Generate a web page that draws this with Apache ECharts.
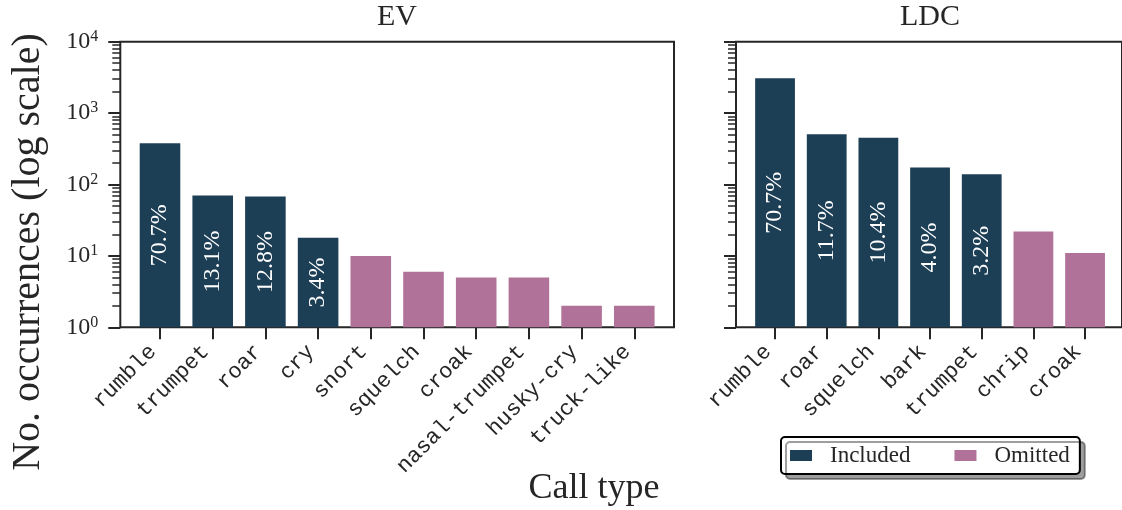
<!DOCTYPE html>
<html><head><meta charset="utf-8">
<script src="https://cdn.jsdelivr.net/npm/echarts@6/dist/echarts.min.js"></script>
<style>html,body{margin:0;padding:0;background:#fff}#c{width:1122px;height:510px}</style>
</head><body><div id="c"></div>
<script>
// ---- data ----
const evCategories = ['rumble','trumpet','roar','cry','snort','squelch','croak','nasal-trumpet','husky-cry','truck-like'];
const evIncluded   = [377, 70, 68, 18, null, null, null, null, null, null];
const evOmitted    = [null, null, null, null, 10, 6, 5, 5, 2, 2];
const evPercent    = ['70.7%','13.1%','12.8%','3.4%'];
const ldcCategories = ['rumble','roar','squelch','bark','trumpet','chrip','croak'];
const ldcIncluded   = [3070, 506, 452, 173, 139, null, null];
const ldcOmitted    = [null, null, null, null, null, 22, 11];
const ldcPercent    = ['70.7%','11.7%','10.4%','4.0%','3.2%'];
const yMin = 1, yMax = 10000;
const panelTitles = ['EV', 'LDC'];
const seriesNames = ['Included', 'Omitted'];
const xTitle = 'Call type';
const yTitle = 'No. occurrences (log scale)';

// ---- style ----
const NAVY = '#1d3f56', PINK = '#b07299', INK = '#262626';
const SERIF = '"Liberation Serif", "DejaVu Serif", serif';
const MONO = '"Liberation Mono", "DejaVu Sans Mono", monospace';
const TOP = 41.7, H = 285.6;

const minorVals = [];
for (let d = 0; d < 4; d++) for (let k = 2; k <= 9; k++) minorVals.push(d + Math.log10(k));

function frameAxes(gridIndex, showLabels) {
  return [
    { type: 'log', logBase: 10, min: yMin, max: yMax, gridIndex, position: 'left',
      axisLine: { show: false },
      axisTick: { show: true, length: 12, lineStyle: { color: INK, width: 2 } },
      splitLine: { show: false },
      axisLabel: { show: showLabels, margin: 22, color: INK,
        formatter: v => '{b|10}{s|' + Math.round(Math.log10(v)) + '}',
        rich: { b: { fontFamily: SERIF, fontSize: 24, color: INK, lineHeight: 26 },
                s: { fontFamily: SERIF, fontSize: 16, color: INK, lineHeight: 13, verticalAlign: 'top' } } } },
    { type: 'value', min: 0, max: 4, gridIndex, position: 'left',
      axisLine: { show: false }, splitLine: { show: false }, axisLabel: { show: false },
      axisTick: { show: true, length: 8, customValues: minorVals, lineStyle: { color: INK, width: 1.5 } } },
    { type: 'log', logBase: 10, min: yMin, max: yMax, gridIndex: gridIndex + 1, show: false }
  ];
}
function dataXAxis(gridIndex, cats) {
  return { type: 'category', data: cats, gridIndex, boundaryGap: true,
    axisLine: { show: false },
    axisTick: { show: true, alignWithLabel: true, length: 12, lineStyle: { color: INK, width: 2 } },
    axisLabel: { interval: 0, rotate: 45, margin: 14, fontFamily: MONO, fontSize: 22, color: INK, padding: [0, 10, 0, 0] } };
}
function bars(xi, yi, inc, omi, pct) {
  return [
    { name: seriesNames[0], type: 'bar', xAxisIndex: xi, yAxisIndex: yi, data: inc, barWidth: '77%', barGap: '-100%',
      itemStyle: { color: NAVY },
      label: { show: true, position: 'inside', rotate: 90, color: '#fff', fontFamily: SERIF, fontSize: 24,
        formatter: p => pct[p.dataIndex] } },
    { name: seriesNames[1], type: 'bar', xAxisIndex: xi, yAxisIndex: yi, data: omi, barWidth: '77%', barGap: '-100%',
      itemStyle: { color: PINK } }
  ];
}

const frameGrid = (left, width) => ({ left, top: TOP, width, height: H, show: true, borderColor: INK, borderWidth: 2, backgroundColor: 'transparent' });
const dataGrid = (left, width) => ({ left, top: TOP, width, height: H, show: false });

const option = {
  animation: false,
  grid: [ frameGrid(120.3, 553.7), dataGrid(133.65, 527), frameGrid(736, 387.8), dataGrid(749.2, 361.7) ],
  xAxis: [
    { type: 'value', gridIndex: 0, min: 0, max: 1, show: false },
    dataXAxis(1, evCategories),
    { type: 'value', gridIndex: 2, min: 0, max: 1, show: false },
    dataXAxis(3, ldcCategories)
  ],
  yAxis: [ ...frameAxes(0, true), ...frameAxes(2, false) ],
  series: [ ...bars(1, 2, evIncluded, evOmitted, evPercent), ...bars(3, 5, ldcIncluded, ldcOmitted, ldcPercent) ],
  legend: {
    data: seriesNames, left: 781, top: 437, icon: 'rect', itemWidth: 22, itemHeight: 11, itemGap: 44,
    padding: [7, 10, 7, 9], selectedMode: false,
    backgroundColor: '#fff', borderColor: '#000', borderWidth: 2, borderRadius: 4,
    shadowColor: 'rgba(0,0,0,0.38)', shadowBlur: 0, shadowOffsetX: 5, shadowOffsetY: 5,
    formatter: n => '{t|' + n + '}',
    textStyle: { rich: { t: { fontFamily: SERIF, fontSize: 23, color: INK, padding: [0, 0, 0, 13] } } }
  },
  graphic: [
    { type: 'text', x: 397, y: 17, style: { text: panelTitles[0], font: '30px ' + SERIF, fill: INK, align: 'center', verticalAlign: 'middle' } },
    { type: 'text', x: 930, y: 17, style: { text: panelTitles[1], font: '30px ' + SERIF, fill: INK, align: 'center', verticalAlign: 'middle' } },
    { type: 'text', x: 594, y: 489, style: { text: xTitle, font: '36px ' + SERIF, fill: INK, align: 'center', verticalAlign: 'middle' } },
    { type: 'text', x: 28, y: 252, rotation: Math.PI / 2, style: { text: yTitle, font: '40px ' + SERIF, fill: INK, align: 'center', verticalAlign: 'middle' } }
  ]
};
echarts.init(document.getElementById('c'), null, { renderer: 'canvas' }).setOption(option);
</script></body></html>
